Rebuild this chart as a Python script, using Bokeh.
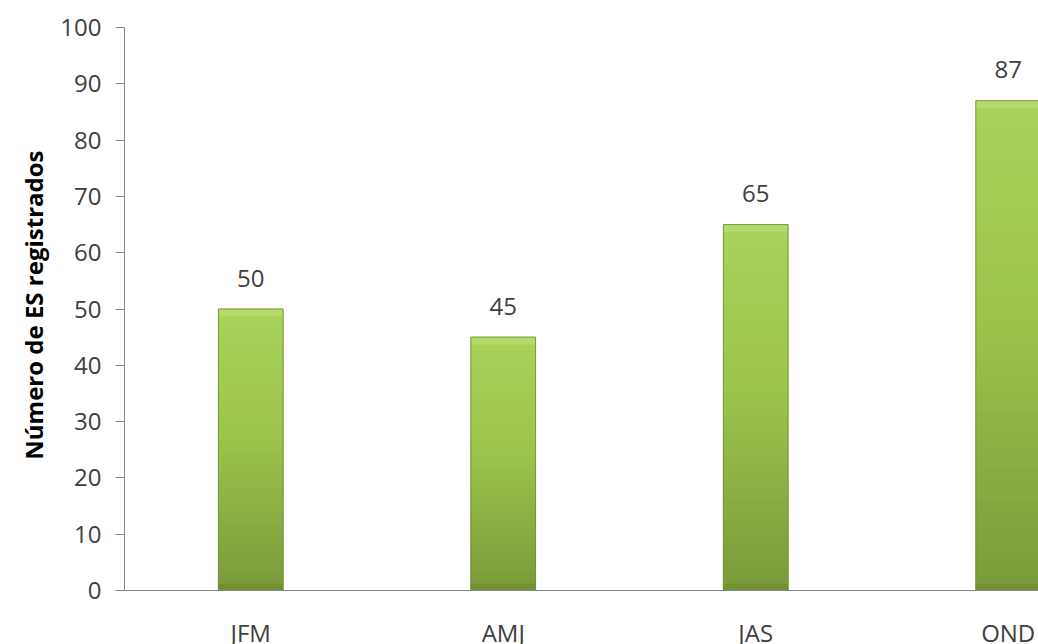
import math
from bokeh.plotting import figure
from bokeh.models import FixedTicker, Range1d, Span, Title, ColumnDataSource
from bokeh.core.properties import value
from bokeh.embed import file_html
from bokeh.resources import INLINE

categories = ["JFM", "AMJ", "JAS", "OND"]
values = [50, 45, 65, 87]
y_ticks = [0, 10, 20, 30, 40, 50, 60, 70, 80, 90, 100]
y_title = "Número de ES registrados"

FONT = "Open Sans"
TXT = "#404040"
AX = "#868686"

p = figure(width=1038, height=644, output_backend="svg", toolbar_location=None,
           x_range=Range1d(0, 3.62), y_range=Range1d(-9.59, 100),
           x_axis_location=None,
           min_border_left=124, min_border_right=0, min_border_top=27,
           min_border_bottom=0)
p.outline_line_color = None
p.xgrid.grid_line_color = None
p.ygrid.grid_line_color = None
p.background_fill_color = "white"
p.border_fill_color = "white"

xs = [i + 0.5 for i in range(len(categories))]
bw = 0.256

def hex2rgb(h):
    h = h.lstrip("#")
    return [int(h[i:i + 2], 16) for i in (0, 2, 4)]

def lerp(c1, c2, t):
    a, b = hex2rgb(c1), hex2rgb(c2)
    return "#%02x%02x%02x" % tuple(int(round(a[k] + (b[k] - a[k]) * t)) for k in range(3))

stops = [(0.0, "#7a9a3a"), (0.55, "#9cc44c"), (1.0, "#a9d25c")]

def grad(t):
    for (t0, c0), (t1, c1) in zip(stops[:-1], stops[1:]):
        if t <= t1:
            return lerp(c0, c1, (t - t0) / (t1 - t0))
    return stops[-1][1]

N = 60
gx, gb, gt, gc = [], [], [], []
for x, v in zip(xs, values):
    for i in range(N):
        gx.append(x)
        gb.append(v * i / N)
        gt.append(v * (i + 1) / N)
        gc.append(grad((i + 0.5) / N))
p.vbar(x=gx, bottom=gb, top=gt, width=bw, fill_color=gc, line_color=gc,
       line_width=1)

# top bevel highlight
p.vbar(x=xs, bottom=[v - 1.3 for v in values], top=values, width=bw,
       fill_color="#b6dc70", line_color=None, fill_alpha=0.8)
# bottom bevel shade
p.vbar(x=xs, bottom=0, top=1.2, width=bw, fill_color="#6a8a30",
       line_color=None, fill_alpha=0.6)
# outline
p.vbar(x=xs, bottom=0, top=values, width=bw, fill_color=None,
       line_color="#6f8f33", line_width=1, line_alpha=0.8)

# baseline (category axis line)
p.add_layout(Span(location=0, dimension="width", line_color=AX, line_width=1))

src = ColumnDataSource(dict(x=xs, y=[v + 5.5 for v in values],
                            t=[str(v) for v in values]))
p.text(x="x", y="y", text="t", source=src, text_align="center",
       text_baseline="middle", text_font_size="24px", text_color=TXT,
       text_font=value(FONT))

# category labels
p.text(x=xs, y=-4.5, text=categories, text_align="center",
       text_baseline="top", text_font_size="24px", text_color=TXT,
       text_font=value(FONT))

# y axis
p.yaxis.bounds = (0, 100)
p.yaxis.ticker = FixedTicker(ticks=y_ticks)
p.yaxis.axis_line_color = AX
p.yaxis.major_tick_line_color = AX
p.yaxis.major_tick_out = 9
p.yaxis.major_tick_in = 0
p.yaxis.minor_tick_line_color = None
p.yaxis.major_label_text_font = FONT
p.yaxis.major_label_text_font_size = "24px"
p.yaxis.major_label_text_color = TXT
p.yaxis.major_label_standoff = 14

title = Title(text=y_title, align="right", offset=123, standoff=16,
              text_font=FONT, text_font_style="bold", text_font_size="24px",
              text_color="#000000")
p.add_layout(title, "left")

open("out.html", "w").write(file_html(p, INLINE))
